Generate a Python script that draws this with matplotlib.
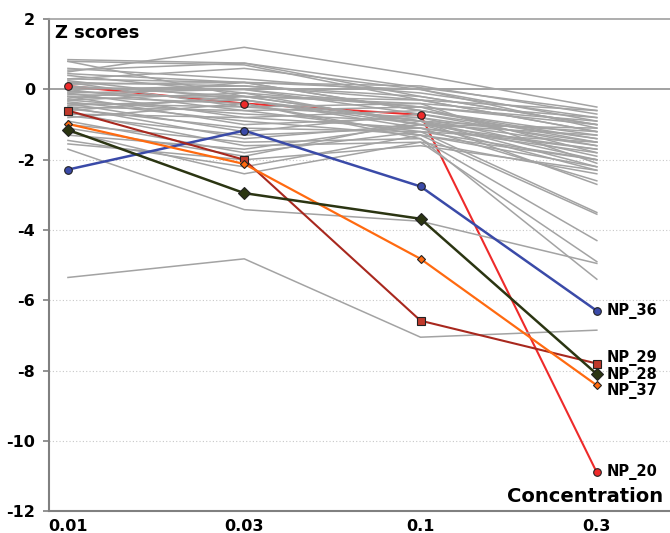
import numpy as np
import matplotlib.pyplot as plt

plt.rcParams['axes.unicode_minus'] = False

conc = ['0.01', '0.03', '0.1', '0.3']

# background nanoparticles (gray)
gray_series = [
    [0.85, 0.75, 0.05, -0.6],
    [0.5, 1.2, 0.4, -0.5],
    [0.8, 0.7, -0.3, -1.2],
    [0.8, -0.2, -0.9, -1.6],
    [0.6, 0.3, -0.1, -0.8],
    [0.55, 0.75, -0.2, -1.0],
    [0.45, 0.2, 0.1, -0.7],
    [0.4, -0.1, -0.5, -1.8],
    [0.3, 0.6, 0.0, -0.9],
    [0.3, 0.2, -0.6, -1.3],
    [0.25, -0.3, -1.0, -2.3],
    [0.2, 0.1, -0.3, -0.6],
    [0.2, -0.5, -0.8, -1.5],
    [0.15, 0.2, 0.0, -1.1],
    [0.1, -0.2, -0.4, -2.1],
    [0.05, 0.0, -0.7, -1.4],
    [0.0, -0.6, -1.2, -3.5],
    [0.0, 0.1, -0.2, -1.0],
    [-0.05, -0.3, -0.9, -2.0],
    [-0.1, 0.0, -0.5, -0.9],
    [-0.1, -0.8, -1.1, -1.7],
    [-0.15, -0.2, -0.3, -1.2],
    [-0.2, -0.4, -1.4, -4.3],
    [-0.2, -1.0, -0.8, -1.9],
    [-0.25, 0.2, -0.6, -1.5],
    [-0.3, -0.7, -0.9, -2.2],
    [-0.3, -0.1, -1.0, -1.1],
    [-0.35, -0.9, -1.3, -3.55],
    [-0.4, -0.5, -0.4, -0.8],
    [-0.4, -1.2, -0.7, -1.6],
    [-0.45, -0.3, -1.1, -2.6],
    [-0.5, -1.4, -1.0, -1.3],
    [-0.5, -0.6, -0.5, -1.0],
    [-0.55, -1.1, -1.2, -2.0],
    [-0.6, -0.2, -0.9, -2.7],
    [-0.65, -1.6, -1.5, -4.9],
    [-0.7, -0.8, -0.6, -1.4],
    [-0.75, -1.3, -1.1, -1.8],
    [-0.8, -0.4, -1.3, -2.2],
    [-0.9, -1.8, -1.2, -1.5],
    [-1.0, -1.5, -1.4, -5.4],
    [-1.1, -1.9, -0.9, -1.2],
    [-1.2, -2.4, -1.5, -2.4],
    [-1.3, -1.7, -1.0, -1.7],
    [-1.45, -2.2, -1.3, -2.0],
    [-1.55, -2.0, -1.6, -2.3],
    [-1.7, -3.42, -3.75, -4.95],
    [-5.35, -4.82, -7.05, -6.85],
]

# highlighted nanoparticles
np20 = [0.1, -0.4, -0.72, -10.9]
np36 = [-2.28, -1.17, -2.76, -6.3]
np29 = [-0.6, -2.0, -6.58, -7.8]
np28 = [-1.15, -2.95, -3.68, -8.1]
np37 = [-0.98, -2.12, -4.82, -8.42]

x = np.arange(len(conc))

fig = plt.figure(figsize=(6.7, 5.33), dpi=100)
ax = fig.add_axes([0.073, 0.041, 0.927, 0.923])

for v in [-2, -4, -6, -8, -10]:
    ax.axhline(v, color='#c8c8c8', lw=0.8, ls=(0, (1, 2)), zorder=0)
ax.axhline(0, color='#9a9a9a', lw=1.3, zorder=1)

# NP_20 line sits under the gray lines, its markers on top
ax.plot(x, np20, color='#ee2a2a', lw=1.5, zorder=2)

for s in gray_series:
    ax.plot(x, s, color='#a3a3a3', lw=1.1, zorder=3)

ax.plot(x, np20, ls='none', marker='o', ms=5.5, mfc='#ee2a2a', mec='#222222', mew=0.8, zorder=6)
ax.plot(x, np36, color='#3a4aa8', lw=1.8, marker='o', ms=5.5, mfc='#3a4aa8', mec='#222222', mew=0.8, zorder=5)
ax.plot(x, np29, color='#a8281e', lw=1.5, marker='s', ms=6, mfc='#c0392b', mec='#222222', mew=0.8, zorder=5)
ax.plot(x, np37, color='#ff6a10', lw=1.6, marker='D', ms=4.5, mfc='#ff6a10', mec='#222222', mew=0.8, zorder=5)
ax.plot(x, np28, color='#2b3512', lw=1.8, marker='D', ms=6.5, mfc='#2b3512', mec='#222222', mew=0.8, zorder=5)

labels = [('NP_36', np36[-1], 0), ('NP_29', np29[-1], 4), ('NP_28', np28[-1], -1),
          ('NP_37', np37[-1], -4), ('NP_20', np20[-1], 0)]
for name, yv, dy in labels:
    ax.annotate(name, xy=(x[-1], yv), xytext=(7, dy), textcoords='offset points',
                fontsize=10.5, fontweight='bold', va='center', ha='left')

ax.set_xlim(-0.108, 3.415)
ax.set_ylim(-12, 2)
ax.set_yticks(range(-12, 3, 2))
ax.set_xticks(x)
ax.set_xticklabels(conc)
ax.tick_params(axis='x', length=0, pad=6, labelsize=11.5)
ax.tick_params(axis='y', length=4, width=1.2, color='#808080', pad=6, labelsize=11.5)
for lab in ax.get_xticklabels() + ax.get_yticklabels():
    lab.set_fontweight('bold')

for side in ['left', 'bottom']:
    ax.spines[side].set_color('#808080')
    ax.spines[side].set_linewidth(1.5)
ax.spines['top'].set_color('#a0a0a0')
ax.spines['top'].set_linewidth(1.2)
ax.spines['right'].set_visible(False)

ax.text(0.01, 0.971, 'Z scores', transform=ax.transAxes, fontsize=13, fontweight='bold', va='center', ha='left')
ax.text(0.989, 0.03, 'Concentration', transform=ax.transAxes, fontsize=14, fontweight='bold', va='center', ha='right')

fig.savefig('out.png', dpi=100)
